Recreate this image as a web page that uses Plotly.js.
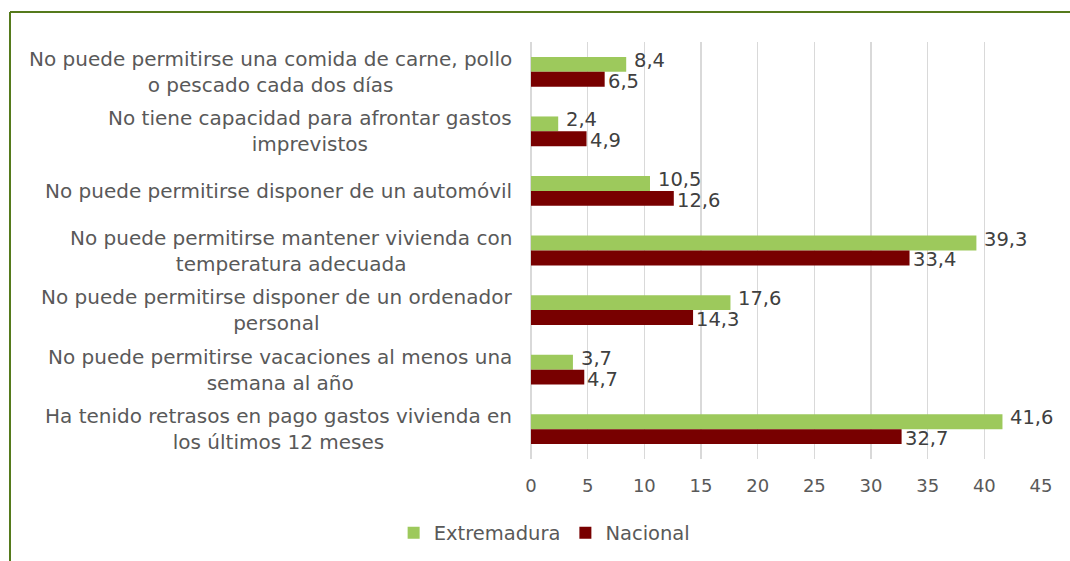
<!DOCTYPE html>
<html>
<head>
<meta charset="utf-8">
<script src="https://cdn.plot.ly/plotly-3.0.1.min.js"></script>
<style>html,body{margin:0;padding:0;background:#fff;}#chart{width:1070px;height:561px;}</style>
</head>
<body>
<div id="chart"></div>
<script>
const categories = [
  "No puede permitirse una comida de carne, pollo<br>o pescado cada dos días",
  "No tiene capacidad para afrontar gastos<br>imprevistos",
  "No puede permitirse disponer de un automóvil",
  "No puede permitirse mantener vivienda con<br>temperatura adecuada",
  "No puede permitirse disponer de un ordenador<br>personal",
  "No puede permitirse vacaciones al menos una<br>semana al año",
  "Ha tenido retrasos en pago gastos vivienda en<br>los últimos 12 meses"
];
const extremadura = [8.4, 2.4, 10.5, 39.3, 17.6, 3.7, 41.6];
const nacional = [6.5, 4.9, 12.6, 33.4, 14.3, 4.7, 32.7];
const xTicks = [0, 5, 10, 15, 20, 25, 30, 35, 40, 45];
const seriesNames = ["Extremadura", "Nacional"];

const fmt = v => v.toFixed(1).replace('.', ',');
const FONT = "DejaVu Sans, Verdana, sans-serif";
const GREEN = "#9dc95c";
const RED = "#780000";

const mk = (vals, name, color) => ({
  type: 'bar', orientation: 'h', name: name,
  x: vals, y: categories,
  marker: {color: color},
  hoverinfo: 'skip'
});

const data = [mk(extremadura, seriesNames[0], GREEN), mk(nacional, seriesNames[1], RED)];

// layout geometry (pixels)
const L = 531, R = 29, T = 42, B = 102, W = 1070, H = 561;
const pw = W - L - R, ph = H - T - B;
const px = x => (x - L) / pw;
const py = y => (H - B - y) / ph;
const FRAME = "#557a1c";

const catAnnotations = categories.map(c => ({
  xref: 'paper', yref: 'y', x: 0, xshift: -17, y: c,
  text: c, showarrow: false, xanchor: 'right', yanchor: 'middle', align: 'center',
  font: {family: FONT, size: 20, color: '#595959'}
}));

// data labels, placed at each bar's end (bar centers at index -/+ 0.125 in grouped mode)
const valueLabel = (vals, off, xs, ys) => vals.map((v, i) => ({
  xref: 'x', yref: 'y', x: v, y: i + off, xshift: xs, yshift: ys,
  text: fmt(v), showarrow: false, xanchor: 'left', yanchor: 'middle',
  font: {family: FONT, size: 19.5, color: '#404040'}
}));

const layout = {
  width: W, height: H,
  margin: {l: L, r: R, t: T, b: B, pad: 0},
  paper_bgcolor: '#fff', plot_bgcolor: '#fff',
  barmode: 'group', bargap: 0.5, bargroupgap: 0,
  font: {family: FONT, size: 18, color: '#595959'},
  xaxis: {
    range: [0, 45], tickvals: xTicks, ticktext: xTicks.map(String),
    showgrid: true, gridcolor: '#d9d9d9', gridwidth: 1.5,
    zeroline: true, zerolinecolor: '#d9d9d9', zerolinewidth: 1.5,
    showline: false, ticks: '', ticklabelstandoff: 14,
    tickfont: {family: FONT, size: 18, color: '#595959'}, fixedrange: true
  },
  yaxis: {
    type: 'category', autorange: 'reversed', showticklabels: false,
    showgrid: false, zeroline: false, showline: false, ticks: '', fixedrange: true
  },
  showlegend: true,
  legend: {
    orientation: 'h', xref: 'container', yref: 'container',
    x: 0.509, xanchor: 'center', y: 0.05, yanchor: 'middle',
    itemwidth: 30,
    font: {family: FONT, size: 19.5, color: '#595959'}, traceorder: 'normal'
  },
  annotations: catAnnotations
    .concat(valueLabel(extremadura, -0.125, 6, 4))
    .concat(valueLabel(nacional, 0.125, 1, -2)),
  shapes: [
    {type: 'line', xref: 'paper', yref: 'paper', x0: px(10), x1: px(1075), y0: py(12), y1: py(12), line: {color: FRAME, width: 2}},
    {type: 'line', xref: 'paper', yref: 'paper', x0: px(10), x1: px(10), y0: py(12), y1: py(566), line: {color: FRAME, width: 2}}
  ]
};

Plotly.newPlot('chart', data, layout, {displayModeBar: false, staticPlot: true});
</script>
</body>
</html>
